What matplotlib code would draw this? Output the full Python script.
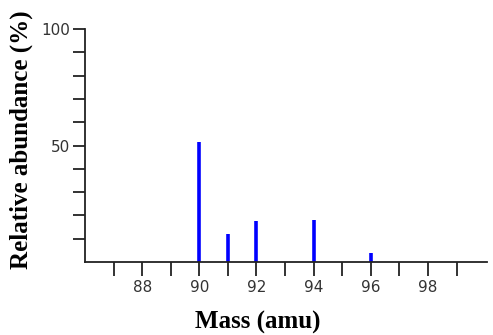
import matplotlib.pyplot as plt
import numpy as np

# Zr isotope pattern
mass = [90, 91, 92, 94, 96]
abundance = [51.6, 12.0, 17.5, 18.2, 3.7]

major_x = [88, 90, 92, 94, 96, 98]
minor_x = [87, 89, 91, 93, 95, 97, 99]
y_ticks = [10, 20, 30, 40, 50, 60, 70, 80, 90, 100]
y_labels = ['', '', '', '', '50', '', '', '', '', '100']

fig = plt.figure(figsize=(4.93, 3.35), dpi=100)
ax = fig.add_axes([0.1724, 0.2179, 0.8146, 0.6955])

ax.vlines(mass, 0, abundance, color='#0000ff', lw=2.6)

ax.set_xlim(86, 100.05)
ax.set_ylim(0, 100)

ax.spines['top'].set_visible(False)
ax.spines['right'].set_visible(False)
for s in ('left', 'bottom'):
    ax.spines[s].set_color('#222222')
    ax.spines[s].set_linewidth(1.3)

ax.set_xticks(major_x)
ax.set_xticks(minor_x, minor=True)
ax.set_yticks(y_ticks)
ax.set_yticklabels(y_labels)

ax.tick_params(axis='x', which='both', direction='out', length=10, width=1.3,
               color='#222222', labelsize=11, labelcolor='#333333', pad=3)
ax.tick_params(axis='y', direction='out', length=8.6, width=1.3,
               color='#222222', labelsize=11, labelcolor='#333333', pad=2)

ax.set_xlabel('Mass (amu)', family='Liberation Serif', fontweight='bold',
              fontsize=18, va='center')
ax.set_ylabel('Relative abundance (%)', family='Liberation Serif', fontweight='bold',
              fontsize=18, va='center')
ax.xaxis.set_label_coords(0.4294, -0.2575)
ax.yaxis.set_label_coords(-0.159, 0.524)

fig.savefig('out.png', dpi=100)
